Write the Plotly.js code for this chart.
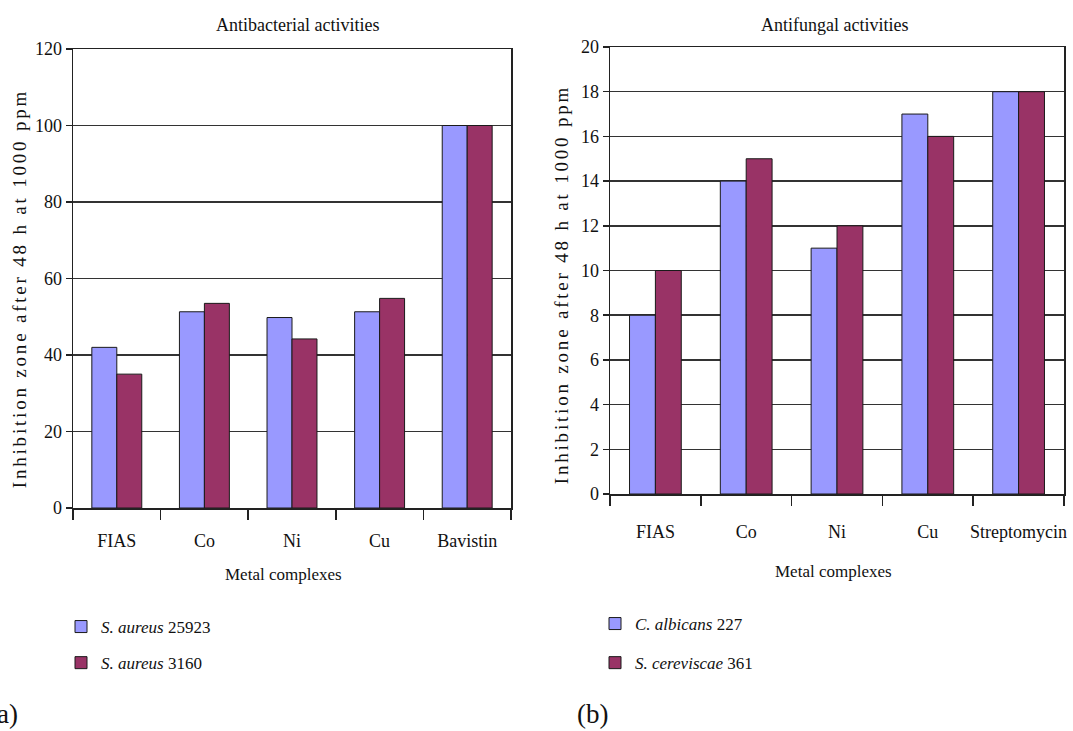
<!DOCTYPE html>
<html>
<head>
<meta charset="utf-8">
<script src="https://cdn.plot.ly/plotly-3.0.1.min.js"></script>
<style>html,body{margin:0;padding:0;background:#fff;}#chart{width:1073px;height:731px;}</style>
</head>
<body>
<div id="chart"></div>
<script>
// ---- data ----
const categoriesA = ["FIAS", "Co", "Ni", "Cu", "Bavistin"];
const sAureus25923 = [42, 51.3, 49.8, 51.3, 100];
const sAureus3160 = [35, 53.5, 44.2, 54.8, 100];

const categoriesB = ["FIAS", "Co", "Ni", "Cu", "Streptomycin"];
const cAlbicans227 = [8, 14, 11, 17, 18];
const sCereviscae361 = [10, 15, 12, 16, 18];

const yTicksA = [0, 20, 40, 60, 80, 100, 120];
const yTicksB = [0, 2, 4, 6, 8, 10, 12, 14, 16, 18, 20];

const yTitle = "Inhibition zone after 48 h at 1000 ppm";

// ---- style ----
const W = 1073, H = 731;
const px = v => v / W;
const py = v => 1 - v / H;
const BLUE = "#9999FF", MAROON = "#993366";
const SERIF = "Liberation Serif";
const tickFont = () => ({family: SERIF, size: 18, color: "#111"});

function bar(x, y, name, color, xa, ya, legend, group) {
  return {
    type: "bar", x: x, y: y, name: name, xaxis: xa, yaxis: ya,
    legend: legend, legendgroup: group,
    marker: {color: color, line: {color: "#1a1a1a", width: 1}},
    hoverinfo: "x+y"
  };
}

const data = [
  bar(categoriesA, sAureus25923, "<i>S. aureus</i> 25923", BLUE, "x", "y", "legend", "a1"),
  bar(categoriesA, sAureus3160, "<i>S. aureus</i> 3160", MAROON, "x", "y", "legend", "a2"),
  bar(categoriesB, cAlbicans227, "<i>C. albicans</i> 227", BLUE, "x2", "y2", "legend2", "b1"),
  bar(categoriesB, sCereviscae361, "<i>S. cereviscae</i> 361", MAROON, "x2", "y2", "legend2", "b2")
];

function xAxis(domain, anchor, standoff) {
  return {
    domain: domain, anchor: anchor, type: "category",
    showline: true, linecolor: "#222", linewidth: 1.5, mirror: true,
    ticks: "outside", tickson: "boundaries", ticklen: 10, tickwidth: 1.5, tickcolor: "#222",
    tickfont: tickFont(), tickangle: 0, ticklabelstandoff: standoff,
    showgrid: false, automargin: false, fixedrange: true
  };
}
function yAxis(domain, anchor, range, tickvals) {
  return {
    domain: domain, anchor: anchor, range: range, tickvals: tickvals,
    showline: true, linecolor: "#222", linewidth: 1.5, mirror: true,
    ticks: "outside", ticklen: 6, tickwidth: 1.5, tickcolor: "#222",
    showgrid: true, gridcolor: "#333", gridwidth: 1.5, zeroline: false,
    tickfont: tickFont(), automargin: false, fixedrange: true
  };
}

const legendBase = (gap) => ({
  font: {family: SERIF, size: 17, color: "#111"},
  bgcolor: "rgba(0,0,0,0)", xanchor: "left", yanchor: "top",
  traceorder: "grouped", tracegroupgap: gap, orientation: "v"
});

function ann(text, x, y, size, opts) {
  return Object.assign({
    text: text, x: px(x), y: py(y), xref: "paper", yref: "paper",
    showarrow: false, font: {family: SERIF, size: size, color: "#111"},
    xanchor: "center", yanchor: "middle"
  }, opts || {});
}

const layout = {
  width: W, height: H,
  margin: {l: 0, r: 0, t: 0, b: 0},
  paper_bgcolor: "#fff", plot_bgcolor: "#fff",
  barmode: "group", bargap: 0.43, bargroupgap: 0,
  showlegend: true,
  xaxis: xAxis([px(73), px(511)], "y", 16),
  yaxis: yAxis([py(508), py(49)], "x", [0, 120], yTicksA),
  xaxis2: xAxis([px(610), px(1064)], "y2", 21),
  yaxis2: yAxis([py(494), py(47)], "x2", [0, 20], yTicksB),
  legend: Object.assign(legendBase(11), {x: px(61), y: py(609)}),
  legend2: Object.assign(legendBase(14), {x: px(595), y: py(606)}),
  annotations: [
    ann("Antibacterial activities", 297, 25, 18),
    ann("Antifungal activities", 834, 25, 18),
    ann("Metal complexes", 283, 574, 17),
    ann("Metal complexes", 833, 571, 17),
    ann(yTitle, 19, 289, 19, {textangle: -90}),
    ann(yTitle, 561, 285, 19, {textangle: -90}),
    ann("(a)", 20, 714, 27, {xanchor: "right"}),
    ann("(b)", 575, 714, 27, {xanchor: "left"})
  ]
};

Plotly.newPlot("chart", data, layout, {displayModeBar: false, staticPlot: true}).then(function (gd) {
  // the reference's vertical axis titles are letter-spaced
  gd.querySelectorAll(".annotation-text").forEach(function (t) {
    if (t.textContent === yTitle) t.style.letterSpacing = "2.8px";
  });
});
</script>
</body>
</html>
